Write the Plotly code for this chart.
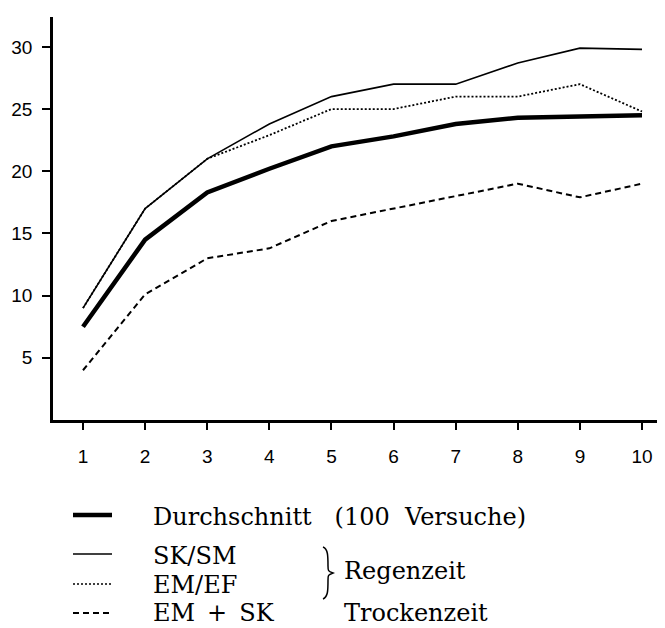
import plotly.graph_objects as go

# ---- data ----
versuche = [1, 2, 3, 4, 5, 6, 7, 8, 9, 10]
durchschnitt = [7.5, 14.5, 18.3, 20.2, 22.0, 22.8, 23.8, 24.3, 24.4, 24.5]
sk_sm = [9.0, 17.0, 21.0, 23.8, 26.0, 27.0, 27.0, 28.7, 29.9, 29.8]
em_ef = [9.0, 17.0, 21.0, 22.9, 25.0, 25.0, 26.0, 26.0, 27.0, 24.8]
em_sk = [4.0, 10.1, 13.0, 13.8, 16.0, 17.0, 18.0, 19.0, 17.9, 19.0]
x_ticks = [1, 2, 3, 4, 5, 6, 7, 8, 9, 10]
y_ticks = [5, 10, 15, 20, 25, 30]

OFF = 8  # default page body margin
W, H = 665 - OFF, 628 - OFF
L, R, T = 53 - OFF, 0, 17 - OFF
B = H - (420 - OFF)
PW, PH = W - L - R, H - T - B


def px(xp):
    return (xp - OFF - L) / PW


def py(yp):
    return (H - B - (yp - OFF)) / PH


fig = go.Figure()
fig.add_trace(go.Scatter(x=versuche, y=em_sk, mode="lines",
                         line=dict(color="black", width=2, dash="6px,4px")))
fig.add_trace(go.Scatter(x=versuche, y=em_ef, mode="lines",
                         line=dict(color="black", width=1.8, dash="2px,2px")))
fig.add_trace(go.Scatter(x=versuche, y=sk_sm, mode="lines",
                         line=dict(color="black", width=1.6)))
fig.add_trace(go.Scatter(x=versuche, y=durchschnitt, mode="lines",
                         line=dict(color="black", width=4.5)))

serif = "DejaVu Serif"
tfs = 24
NB = "\u00a0"
EN = "\u2002"
shapes = []
annotations = []
legend_rows = [
    (515, 517, f"Durchschnitt{NB}{NB} (100{NB} Versuche)", dict(color="black", width=4.5)),
    (554, 556, "SK/SM", dict(color="black", width=1.6)),
    (584, 585, "EM/EF", dict(color="black", width=1.5, dash="2px,2px")),
    (613, 613, f"EM{EN}+{EN}SK", dict(color="black", width=2, dash="6px,4px")),
]


def label_ann(text, xp, yp):
    return dict(text=text, xref="paper", yref="paper", x=px(xp), y=py(yp),
                xanchor="left", yanchor="middle", showarrow=False, borderpad=0,
                font=dict(family=serif, size=tfs, color="black"))


for yl, yt, label, ln in legend_rows:
    shapes.append(dict(type="line", xref="paper", yref="paper",
                       x0=px(73), x1=px(112), y0=py(yl), y1=py(yl), line=ln))
    annotations.append(label_ann(label, 152, yt))

annotations.append(label_ann("Regenzeit", 343, 571))
annotations.append(label_ann("Trockenzeit", 343, 613))

# curly brace
bp = [(323, 547), (328, 549), (328, 556), (328, 566), (328, 571), (333, 573),
      (328, 575), (328, 580), (328, 590), (328, 597), (323, 599)]


def P(p):
    return f"{px(p[0]):.5f},{py(p[1]):.5f}"


path = (f"M {P(bp[0])} C {P(bp[1])} {P(bp[2])} {P(bp[3])} "
        f"C {P(bp[4])} {P(bp[4])} {P(bp[5])} "
        f"C {P(bp[6])} {P(bp[6])} {P(bp[7])} "
        f"C {P(bp[8])} {P(bp[9])} {P(bp[10])}")
shapes.append(dict(type="path", xref="paper", yref="paper", path=path,
                   line=dict(color="black", width=1.5)))

fig.update_layout(
    width=W, height=H,
    margin=dict(l=L, r=R, t=T, b=B),
    paper_bgcolor="white", plot_bgcolor="white",
    showlegend=False,
    shapes=shapes, annotations=annotations,
    font=dict(family="Liberation Sans", size=19, color="black"),
)
fig.update_xaxes(range=[0.517, 10.37], tickvals=x_ticks, showgrid=False, zeroline=False,
                 showline=True, linecolor="black", linewidth=2.5,
                 ticks="outside", ticklen=7, tickwidth=2, tickcolor="black",
                 ticklabelstandoff=10)
fig.update_yaxes(range=[0, 32.4], tickvals=y_ticks, showgrid=False, zeroline=False,
                 showline=True, linecolor="black", linewidth=2.5,
                 ticks="outside", ticklen=8, tickwidth=2, tickcolor="black",
                 ticklabelstandoff=6)

fig.write_html("out.html")
